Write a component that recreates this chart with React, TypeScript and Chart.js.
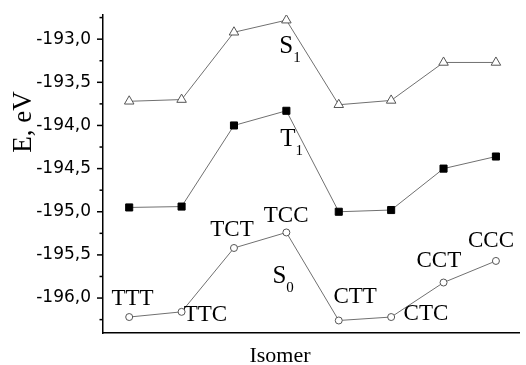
import { useEffect, useRef } from 'react';
import { Chart, registerables } from 'chart.js';
Chart.register(...registerables);

const categories = ['TTT', 'TTC', 'TCT', 'TCC', 'CTT', 'CTC', 'CCT', 'CCC'];
const s1Values = [-193.72, -193.7, -192.92, -192.78, -193.76, -193.71, -193.27, -193.27];
const t1Values = [-194.95, -194.94, -194.0, -193.83, -195.0, -194.98, -194.5, -194.36];
const s0Values = [-196.22, -196.16, -195.42, -195.24, -196.26, -196.22, -195.82, -195.57];
const yTickValues = [-196, -195.5, -195, -194.5, -194, -193.5, -193];
const yMinorTickValues = [-196.25, -195.75, -195.25, -194.75, -194.25, -193.75, -193.25, -192.75];

// label anchor positions in data space (x index, y value at baseline)
const isomerLabelX = [1.064, 2.455, 2.962, 3.996, 5.312, 6.665, 6.91, 7.906];
const isomerLabelY = [-196.081, -196.267, -195.282, -195.12, -196.058, -196.255, -195.641, -195.409];
const stateNames = ['S', 'T', 'S'];
const stateSubs = ['1', '1', '0'];
const stateLabelX = [3.865, 3.883, 3.733];
const stateLabelY = [-193.162, -194.239, -195.826];

const SERIF = '"Liberation Serif", "Times New Roman", serif';

const textPlugin = {
  id: 'texts',
  afterDraw(chart: any) {
    const { ctx, chartArea } = chart;
    const xs = chart.scales.x;
    const ys = chart.scales.y;
    ctx.save();
    // y tick marks
    ctx.strokeStyle = '#000';
    ctx.lineWidth = 1.5;
    const left = chartArea.left;
    yTickValues.forEach((v) => {
      const py = ys.getPixelForValue(v);
      ctx.beginPath();
      ctx.moveTo(left - 6, py);
      ctx.lineTo(left, py);
      ctx.stroke();
    });
    yMinorTickValues.forEach((v) => {
      const py = ys.getPixelForValue(v);
      ctx.beginPath();
      ctx.moveTo(left - 3.5, py);
      ctx.lineTo(left, py);
      ctx.stroke();
    });
    ctx.fillStyle = '#000';
    ctx.textBaseline = 'alphabetic';
    // isomer labels
    ctx.font = `23px ${SERIF}`;
    ctx.textAlign = 'center';
    categories.forEach((c, i) => {
      ctx.fillText(c, xs.getPixelForValue(isomerLabelX[i]), ys.getPixelForValue(isomerLabelY[i]));
    });
    // state labels
    ctx.textAlign = 'left';
    stateNames.forEach((n, i) => {
      const px = xs.getPixelForValue(stateLabelX[i]);
      const py = ys.getPixelForValue(stateLabelY[i]);
      ctx.font = `25px ${SERIF}`;
      ctx.fillText(n, px, py);
      const w = ctx.measureText(n).width;
      ctx.font = `15px ${SERIF}`;
      ctx.fillText(stateSubs[i], px + w, py + 9);
    });
    // axis titles
    ctx.font = `22px ${SERIF}`;
    ctx.textAlign = 'center';
    ctx.fillText('Isomer', 280, 362);
    ctx.save();
    ctx.translate(31, 122);
    ctx.rotate(-Math.PI / 2);
    ctx.font = `27px ${SERIF}`;
    ctx.fillText('E, eV', 0, 0);
    ctx.restore();
    ctx.restore();
  },
};

export default function App() {
  const ref = useRef<HTMLCanvasElement>(null);
  useEffect(() => {
    const canvas = ref.current!;
    const mk = (vals: number[]) => vals.map((y, i) => ({ x: i + 1, y }));
    const chart = new Chart(canvas, {
      type: 'line',
      data: {
        datasets: [
          {
            label: 'S1',
            data: mk(s1Values),
            borderColor: '#707070',
            borderWidth: 1,
            pointStyle: 'triangle',
            pointRadius: 5.5,
            pointBorderColor: '#555',
            pointBackgroundColor: '#fff',
            pointBorderWidth: 1,
          },
          {
            label: 'T1',
            data: mk(t1Values),
            borderColor: '#707070',
            borderWidth: 1,
            pointStyle: 'rect',
            pointRadius: 5,
            pointBorderColor: '#000',
            pointBackgroundColor: '#000',
            pointBorderWidth: 1,
          },
          {
            label: 'S0',
            data: mk(s0Values),
            borderColor: '#707070',
            borderWidth: 1,
            pointStyle: 'circle',
            pointRadius: 3.5,
            pointBorderColor: '#555',
            pointBackgroundColor: '#fff',
            pointBorderWidth: 1,
          },
        ],
      },
      options: {
        responsive: false,
        animation: false,
        layout: { padding: { top: 15, right: 0, bottom: 0, left: 0 } },
        plugins: { legend: { display: false }, tooltip: { enabled: false } },
        scales: {
          x: {
            type: 'linear',
            min: 0.5,
            max: 8.45,
            ticks: { display: false },
            grid: { display: false, drawTicks: false },
            border: { display: true, color: '#000', width: 1.5 },
            afterFit: (s: any) => {
              s.height = 32;
              s.paddingLeft = 0;
              s.paddingRight = 0;
            },
          },
          y: {
            type: 'linear',
            min: -196.405,
            max: -192.72,
            afterBuildTicks: (s: any) => {
              s.ticks = yTickValues.map((v) => ({ value: v }));
            },
            ticks: {
              color: '#000',
              padding: 12,
              font: { family: '"DejaVu Sans", sans-serif', size: 17 },
              callback: (v: any) => Number(v).toFixed(1).replace('.', ','),
            },
            grid: { display: false, drawTicks: false },
            border: { display: true, color: '#000', width: 1.5 },
            afterFit: (s: any) => {
              s.width = 103;
              s.paddingTop = 0;
              s.paddingBottom = 0;
            },
          },
        },
      },
      plugins: [textPlugin],
    });
    return () => chart.destroy();
  }, []);
  return (
    <div style={{ position: 'fixed', left: 0, top: 0, width: 526, height: 365, background: '#fff' }}>
      <canvas ref={ref} width={526} height={365} style={{ width: 526, height: 365 }} />
    </div>
  );
}
